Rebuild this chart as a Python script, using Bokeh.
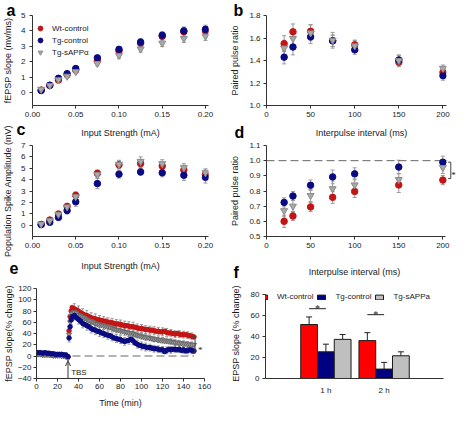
from bokeh.plotting import figure
from bokeh.layouts import column, row
from bokeh.models import (ColumnDataSource, Whisker, TeeHead, Legend, LegendItem, Label, Title,
                          Arrow, OpenHead, FixedTicker, PrintfTickFormatter, LinearAxis, Range1d)
from bokeh.embed import file_html
from bokeh.resources import INLINE

# ------------------------------------------------------------------ data
SERIES = ["Wt-control", "Tg-control", "Tg-sAPP\u03b1"]
F_SERIES = ["Wt-control", "Tg-control", "Tg-sAPPa"]

# a / c : input strength (mA)
STRENGTH = [0.01, 0.02, 0.03, 0.04, 0.05, 0.075, 0.10, 0.125, 0.15, 0.175, 0.20]
A_WT = [0.15, 0.45, 0.80, 1.15, 1.45, 2.05, 2.70, 3.20, 3.65, 3.95, 4.00]
A_TG = [0.12, 0.47, 0.92, 1.22, 1.55, 2.25, 2.80, 3.28, 3.72, 4.00, 4.10]
A_SA = [0.20, 0.45, 0.82, 1.05, 1.35, 1.88, 2.40, 2.82, 3.20, 3.50, 3.65]
A_WT_ERR = [0.05, 0.05, 0.08, 0.10, 0.12, 0.15, 0.20, 0.22, 0.25, 0.28, 0.30]
A_TG_ERR = [0.05, 0.06, 0.08, 0.10, 0.12, 0.15, 0.18, 0.20, 0.22, 0.25, 0.27]
A_SA_ERR = [0.05, 0.05, 0.08, 0.10, 0.12, 0.15, 0.18, 0.20, 0.22, 0.25, 0.27]

C_WT = [0.05, 0.45, 0.98, 1.65, 2.62, 4.55, 5.30, 5.42, 5.20, 4.85, 4.45]
C_TG = [0.05, 0.25, 0.68, 1.28, 2.05, 3.65, 4.48, 4.68, 4.60, 4.38, 4.20]
C_SA = [0.10, 0.40, 0.95, 1.60, 2.50, 4.45, 5.35, 5.60, 5.40, 5.05, 4.60]
C_WT_ERR = [0.10, 0.15, 0.20, 0.25, 0.30, 0.30, 0.35, 0.35, 0.35, 0.40, 0.40]
C_TG_ERR = [0.05, 0.10, 0.15, 0.30, 0.40, 0.45, 0.35, 0.30, 0.35, 0.45, 0.50]
C_SA_ERR = [0.10, 0.15, 0.20, 0.25, 0.30, 0.30, 0.35, 0.40, 0.35, 0.35, 0.35]

# b / d : interpulse interval (ms)
INTERVAL = [20, 30, 50, 75, 100, 150, 200]
B_WT = [1.55, 1.655, 1.66, 1.575, 1.54, 1.385, 1.295]
B_TG = [1.43, 1.52, 1.61, 1.575, 1.495, 1.405, 1.265]
B_SA = [1.51, 1.595, 1.645, 1.58, 1.53, 1.40, 1.33]
B_WT_ERR = [0.07, 0.07, 0.06, 0.05, 0.04, 0.04, 0.04]
B_TG_ERR = [0.06, 0.07, 0.06, 0.05, 0.04, 0.04, 0.04]
B_SA_ERR = [0.07, 0.08, 0.07, 0.07, 0.05, 0.05, 0.03]

D_WT = [0.600, 0.635, 0.695, 0.758, 0.797, 0.840, 0.872]
D_TG = [0.725, 0.767, 0.838, 0.893, 0.913, 0.958, 0.990]
D_SA = [0.670, 0.700, 0.770, 0.815, 0.840, 0.875, 0.955]
D_WT_ERR = [0.04, 0.03, 0.03, 0.04, 0.04, 0.05, 0.03]
D_TG_ERR = [0.03, 0.03, 0.035, 0.045, 0.04, 0.045, 0.04]
D_SA_ERR = [0.04, 0.04, 0.04, 0.05, 0.04, 0.04, 0.04]
D_REF = 1.0
D_BRACKET = [0.882, 0.99]

# e : LTP time course
E_T_BASE = [0, 2, 4, 6, 8, 10, 12, 14, 16, 18, 20, 22, 24, 26, 28, 30]
E_T_POST = [31, 32, 33, 34,
            36, 38, 40, 42, 44, 46, 48, 50, 52, 54,
            56, 58, 60, 62, 64, 66, 68, 70, 72, 74,
            76, 78, 80, 82, 84, 86, 88, 90, 92, 94,
            96, 98, 100, 102, 104, 106, 108, 110, 112, 114,
            116, 118, 120, 122, 124, 126, 128, 130, 132, 134,
            136, 138, 140, 142, 144, 146, 148, 150]
E_WT_BASE = [3, 4, 4, 3, 3, 3, 3, 2, 1, 1, 2, 2, 2, 1, 0, -2]
E_TG_BASE = [6, 6, 6, 5, 6, 5, 5, 4, 4, 3, 3, 3, 3, 2, 2, -1]
E_SA_BASE = [2, 3, 3, 2, 2, 2, 2, 2, 1, 1, 1, 1, 0, 0, -1, -4]
E_WT_POST = [45, 70, 80, 86,
             84, 82, 80, 77, 75, 73, 72, 70, 68, 67,
             66, 65, 64, 63, 62, 62, 60, 60, 59, 58,
             57, 57, 56, 55, 54, 54, 53, 52, 52, 51,
             50, 49, 49, 48, 47, 47, 46, 46, 45, 44,
             44, 43, 43, 44, 42, 41, 41, 40, 39, 40,
             39, 38, 38, 38, 37, 36, 35, 34]
E_SA_POST = [38, 60, 72, 76,
             78, 76, 73, 71, 69, 67, 65, 63, 62, 60,
             58, 57, 56, 55, 54, 53, 52, 51, 50, 48,
             47, 46, 45, 44, 43, 42, 41, 41, 40, 38,
             37, 36, 35, 34, 33, 33, 32, 31, 30, 30,
             29, 28, 28, 27, 27, 26, 26, 25, 24, 24,
             23, 23, 22, 22, 21, 21, 20, 20]
E_TG_POST = [32, 52, 64, 70,
             72, 68, 65, 62, 58, 56, 54, 52, 49, 47,
             46, 44, 43, 41, 40, 38, 37, 36, 34, 32,
             31, 30, 29, 27, 26, 27, 28, 30, 27, 23,
             21, 19, 18, 17, 16, 15, 15, 14, 13, 13,
             12, 11, 11, 8, 10, 12, 11, 12, 12, 11,
             12, 10, 11, 9, 10, 11, 10, 9]
E_WT_ERR = [2, 2, 2, 2, 2, 2, 2, 2, 2, 2, 2, 2, 2, 3, 3, 10,
            8, 9, 9, 9,
            9, 9, 9, 9, 9, 9, 9, 9, 9, 9,
            9, 9, 8, 8, 8, 8, 8, 8, 8, 8,
            8, 8, 8, 8, 8, 8, 8, 8, 8, 8,
            7, 7, 7, 7, 7, 7, 7, 7, 7, 7,
            7, 7, 7, 7, 7, 6, 6, 6, 6, 6,
            6, 6, 6, 6, 6, 6, 6, 6]
E_TG_ERR = [2, 2, 2, 2, 2, 2, 2, 2, 2, 2, 2, 2, 2, 3, 3, 8,
            7, 8, 8, 8,
            8, 8, 8, 8, 8, 8, 8, 8, 8, 8,
            8, 8, 8, 8, 7, 7, 7, 7, 7, 7,
            7, 7, 7, 7, 7, 7, 7, 7, 7, 7,
            7, 7, 7, 7, 7, 7, 6, 6, 6, 6,
            6, 6, 6, 6, 6, 6, 6, 6, 6, 6,
            6, 6, 6, 6, 6, 6, 6, 6]
E_SA_ERR = [2, 2, 2, 2, 2, 2, 2, 2, 2, 2, 2, 2, 2, 3, 3, 9,
            6, 7, 7, 7,
            7, 7, 7, 7, 7, 6, 6, 6, 6, 6,
            6, 6, 6, 6, 6, 6, 6, 6, 6, 6,
            6, 6, 6, 6, 6, 6, 6, 6, 6, 6,
            5, 5, 5, 5, 5, 5, 5, 5, 5, 5,
            5, 5, 5, 5, 5, 5, 5, 5, 5, 5,
            5, 5, 5, 5, 5, 5, 5, 5]
TBS_T = 30
E_BRACKET = [5, 35]

# f : potentiation summary
F_GROUPS = ["1 h", "2 h"]
F_WT = [51.6, 36.2]
F_TG = [25.5, 9.0]
F_SA = [37.4, 21.7]
F_WT_ERR = [7.2, 7.6]
F_TG_ERR = [7.3, 6.4]
F_SA_ERR = [4.6, 3.8]
F_SIG_Y = [66.7, 61.0]

# ------------------------------------------------------------------ style
FONT = "Liberation Sans"
TICK_FS = "8px"
LABEL_FS = "9px"
AX_COL = "#333333"
TXT_COL = "#1a1a1a"
ERR_COL = "#9a9a9a"
COL_WT = "#C41414"
COL_TG = "#0A0A82"
COL_SA = "#A9A9A9"
COL_SA_LINE = "#8A8A8A"
BAR_COLS = ["#FF0000", "#000080", "#BFBFBF"]


def make_fig(w, h, left, right, top, bottom, xr, yr):
    p = figure(width=w, height=h, x_range=xr, y_range=yr, output_backend="svg",
               toolbar_location=None, min_border_left=left, min_border_right=right,
               min_border_top=top, min_border_bottom=bottom)
    p.grid.visible = False
    p.outline_line_color = None
    return p


def style_axis(ax, ticks, fmt=None, label=None, tick_standoff=3, label_standoff=5,
               overrides=None, show_ticks=True):
    ax.ticker = FixedTicker(ticks=ticks, minor_ticks=[])
    if fmt is not None:
        ax.formatter = PrintfTickFormatter(format=fmt)
    if overrides:
        ax.major_label_overrides = overrides
    ax.axis_line_color = AX_COL
    ax.axis_line_width = 1
    ax.major_tick_line_color = AX_COL if show_ticks else None
    ax.major_tick_out = 3
    ax.major_tick_in = 0
    ax.minor_tick_line_color = None
    ax.major_label_text_font = FONT
    ax.major_label_text_font_size = TICK_FS
    ax.major_label_text_color = TXT_COL
    ax.major_label_standoff = tick_standoff
    if label:
        ax.axis_label = label
        ax.axis_label_text_font = FONT
        ax.axis_label_text_font_size = LABEL_FS
        ax.axis_label_text_font_style = "normal"
        ax.axis_label_text_color = TXT_COL
        ax.axis_label_standoff = label_standoff


def top_label(p, text, standoff):
    p.extra_x_ranges = {"lab": Range1d(0, 1)}
    ax = LinearAxis(x_range_name="lab", ticker=FixedTicker(ticks=[], minor_ticks=[]))
    ax.axis_line_color = None
    ax.major_tick_line_color = None
    ax.minor_tick_line_color = None
    ax.major_tick_out = 0
    ax.major_tick_in = 0
    ax.minor_tick_out = 0
    ax.minor_tick_in = 0
    ax.major_label_standoff = 0
    ax.major_label_text_font_size = "0px"
    ax.axis_label = text
    ax.axis_label_text_font = FONT
    ax.axis_label_text_font_size = LABEL_FS
    ax.axis_label_text_font_style = "normal"
    ax.axis_label_text_color = TXT_COL
    ax.axis_label_standoff = int(standoff)
    p.add_layout(ax, "above")


def letter(p, txt, offset, standoff, valign):
    p.add_layout(Title(text=txt, align="left", vertical_align=valign, offset=offset,
                       standoff=standoff, text_font=FONT, text_font_size="16px",
                       text_font_style="bold", text_color="#000000"), "above")


def series(p, xs, vals, errs, color, line_color, marker, size, cap=4, every=1):
    wx = xs[::every]
    wlo = [v - e for v, e in zip(vals, errs)][::every]
    whi = [v + e for v, e in zip(vals, errs)][::every]
    wsrc = ColumnDataSource(dict(x=wx, lo=wlo, hi=whi))
    p.add_layout(Whisker(source=wsrc, base="x", lower="lo", upper="hi", dimension="height",
                         level="underlay", line_color=ERR_COL, line_width=1,
                         upper_head=TeeHead(size=cap, line_color=ERR_COL, line_width=1),
                         lower_head=TeeHead(size=cap, line_color=ERR_COL, line_width=1)))
    src = ColumnDataSource(dict(x=xs, y=vals))
    return p.scatter("x", "y", source=src, marker=marker, size=size,
                     fill_color=color, line_color=line_color, line_width=1)


def three(p, xs, wt, tg, sa, ewt, etg, esa, size=6.5):
    r1 = series(p, xs, wt, ewt, COL_WT, COL_WT, "circle", size)
    r2 = series(p, xs, tg, etg, COL_TG, COL_TG, "circle", size)
    r3 = series(p, xs, sa, esa, COL_SA, COL_SA_LINE, "inverted_triangle", size + 0.5)
    return [r1, r2, r3]


# ------------------------------------------------------------------ panel a
pa = make_fig(227, 121, 27, 19, 15, 16, Range1d(0, 0.2035), Range1d(-0.85, 5))
ra = three(pa, STRENGTH, A_WT, A_TG, A_SA, A_WT_ERR, A_TG_ERR, A_SA_ERR)
style_axis(pa.xaxis[0], [0, 0.05, 0.10, 0.15, 0.20], fmt="%.2f")
style_axis(pa.yaxis[0], [0, 1, 2, 3, 4, 5], label="fEPSP slope (mv/ms)", tick_standoff=4,
           label_standoff=5)
leg_a = Legend(items=[LegendItem(label=SERIES[i], renderers=[ra[i]]) for i in range(3)],
               location=(2, 47), orientation="vertical", label_text_font=FONT,
               label_text_font_size="8px", label_text_color=TXT_COL, glyph_width=12,
               glyph_height=12, label_height=12, label_standoff=6, spacing=-2, padding=0,
               margin=0, border_line_color=None, background_fill_alpha=0)
pa.add_layout(leg_a)
letter(pa, "a", -26, -9.8, "top")

# ------------------------------------------------------------------ panel b
pb = make_fig(229, 121, 38, 10, 15, 16, Range1d(0, 204), Range1d(1.0, 1.8))
three(pb, INTERVAL, B_WT, B_TG, B_SA, B_WT_ERR, B_TG_ERR, B_SA_ERR)
style_axis(pb.xaxis[0], [0, 50, 100, 150, 200])
style_axis(pb.yaxis[0], [1.0, 1.2, 1.4, 1.6, 1.8], fmt="%.1f", label="Paired pulse ratio",
           label_standoff=6)
letter(pb, "b", -33, -9.8, "top")

# ------------------------------------------------------------------ panel c
pc = make_fig(227, 136, 27, 19, 24, 21, Range1d(0, 0.2035), Range1d(-1, 7))
three(pc, STRENGTH, C_WT, C_TG, C_SA, C_WT_ERR, C_TG_ERR, C_SA_ERR)
style_axis(pc.xaxis[0], [0, 0.05, 0.10, 0.15, 0.20], fmt="%.2f")
style_axis(pc.yaxis[0], [0, 1, 2, 3, 4, 5, 6, 7], label="Population Spike Amplitude (mV)",
           tick_standoff=4, label_standoff=5)
top_label(pc, "Input Strength (mA)", 8)
letter(pc, "c", -16, -27.2, "bottom")

# ------------------------------------------------------------------ panel d
pd = make_fig(229, 136, 38, 0, 24, 21, Range1d(0, 215.5), Range1d(0.5, 1.1))
pd.segment(x0=[0], y0=[D_REF], x1=[205], y1=[D_REF], line_color="#666666",
           line_dash="8 4", line_width=1)
three(pd, INTERVAL, D_WT, D_TG, D_SA, D_WT_ERR, D_TG_ERR, D_SA_ERR)
style_axis(pd.xaxis[0], [0, 50, 100, 150, 200])
pd.xaxis[0].bounds = (0, 203)
style_axis(pd.yaxis[0], [0.5, 0.6, 0.7, 0.8, 0.9, 1.0, 1.1], fmt="%.1f",
           label="Paired pulse ratio", label_standoff=6)
top_label(pd, "Interpulse interval (ms)", 8)
pd.segment(x0=[206, 209, 206], y0=[D_BRACKET[1], D_BRACKET[1], D_BRACKET[0]],
           x1=[209, 209, 209], y1=[D_BRACKET[1], D_BRACKET[0], D_BRACKET[0]],
           line_color="#444444", line_width=1)
pd.text(x=[212], y=[(D_BRACKET[0] + D_BRACKET[1]) / 2], text=["*"], text_font_size="9px",
        text_font=FONT, text_align="center", text_baseline="alphabetic", y_offset=5,
        text_color="#222222")
letter(pd, "d", -32, -32.6, "bottom")

# ------------------------------------------------------------------ panel e
pe = make_fig(227, 153, 27, 23, 31, 31, Range1d(0, 160), Range1d(-40, 120))
E_T = E_T_BASE + E_T_POST
pe.segment(x0=[E_T[0]], y0=[0], x1=[E_T[-1]], y1=[0], line_color="#666666",
           line_dash="8 4", line_width=1)
series(pe, E_T, E_WT_BASE + E_WT_POST, E_WT_ERR, COL_WT, COL_WT, "circle", 4.5, cap=3, every=2)
series(pe, E_T, E_SA_BASE + E_SA_POST, E_SA_ERR, "#9C9C9C", "#6A6A6A", "inverted_triangle", 5,
       cap=3, every=2)
series(pe, E_T, E_TG_BASE + E_TG_POST, E_TG_ERR, COL_TG, COL_TG, "circle", 4.5, cap=3, every=2)
pe.add_layout(Arrow(x_start=TBS_T, y_start=-40, x_end=TBS_T, y_end=-9,
                    end=OpenHead(size=5, line_color="#333333", line_width=1),
                    line_color="#333333", line_width=1))
pe.add_layout(Label(x=TBS_T + 3, y=-29, text="TBS", text_font=FONT, text_font_size="8px",
                    text_baseline="middle", text_color=TXT_COL))
pe.segment(x0=[148, 151, 148], y0=[E_BRACKET[1], E_BRACKET[1], E_BRACKET[0]],
           x1=[151, 151, 151], y1=[E_BRACKET[1], E_BRACKET[0], E_BRACKET[0]],
           line_color="#444444", line_width=1)
pe.text(x=[156], y=[(E_BRACKET[0] + E_BRACKET[1]) / 2], text=["*"], text_font_size="9px",
        text_font=FONT, text_align="center", text_baseline="alphabetic", y_offset=5,
        text_color="#222222")
style_axis(pe.xaxis[0], list(range(0, 161, 20)), label="Time (min)", tick_standoff=2,
           label_standoff=6)
style_axis(pe.yaxis[0], list(range(-40, 121, 20)), label="fEPSP slope(% change)",
           tick_standoff=2, label_standoff=1)
top_label(pe, "Input Strength (mA)", 18)
letter(pe, "e", -27, -33.8, "bottom")

# ------------------------------------------------------------------ panel f
pf = make_fig(229, 153, 37, 13, 24, 31, Range1d(-0.037, 3.02), Range1d(0, 86))
BAR_W = 0.288
gx = list(range(1, len(F_GROUPS) + 1))
f_items = []
for k, (vals, errs) in enumerate([(F_WT, F_WT_ERR), (F_TG, F_TG_ERR), (F_SA, F_SA_ERR)]):
    xs = [g + (k - 1) * BAR_W for g in gx]
    src = ColumnDataSource(dict(x=xs, top=vals, hi=[v + e for v, e in zip(vals, errs)]))
    pf.add_layout(Whisker(source=src, base="x", lower="top", upper="hi", dimension="height",
                          line_color="#222222", line_width=1, lower_head=None,
                          upper_head=TeeHead(size=6, line_color="#222222", line_width=1)))
    r = pf.vbar(x="x", top="top", bottom=0, width=BAR_W, source=src, fill_color=BAR_COLS[k],
                line_color="#1a1a1a", line_width=1)
    f_items.append(LegendItem(label=F_SERIES[k], renderers=[r]))
pf.segment(x0=[g - BAR_W for g in gx], y0=F_SIG_Y, x1=gx, y1=F_SIG_Y,
           line_color="#222222", line_width=1)
pf.text(x=[g - BAR_W / 2 for g in gx], y=F_SIG_Y, text=["*"] * len(gx), text_font_size="10px",
        text_font=FONT, text_align="center", text_baseline="alphabetic", text_color="#222222")
leg_f = Legend(items=f_items, location=(-7, 77), orientation="horizontal", label_text_font=FONT,
               label_text_font_size="8px", label_text_color=TXT_COL, glyph_width=10,
               glyph_height=6, label_height=8, label_standoff=9, spacing=3, padding=0, margin=0,
               border_line_color=None, background_fill_alpha=0)
pf.add_layout(leg_f)
style_axis(pf.xaxis[0], gx, overrides={g: lab for g, lab in zip(gx, F_GROUPS)},
           tick_standoff=4, show_ticks=False)
style_axis(pf.yaxis[0], [0, 20, 40, 60, 80], label="EPSP slope (% change)", label_standoff=7)
pf.yaxis[0].bounds = (0, 80)
top_label(pf, "Interpulse interval (ms)", 12)
letter(pf, "f", -32, -35.6, "bottom")

layout = column(row(pa, pb), row(pc, pd), row(pe, pf))
open("out.html", "w").write(file_html(layout, INLINE))
